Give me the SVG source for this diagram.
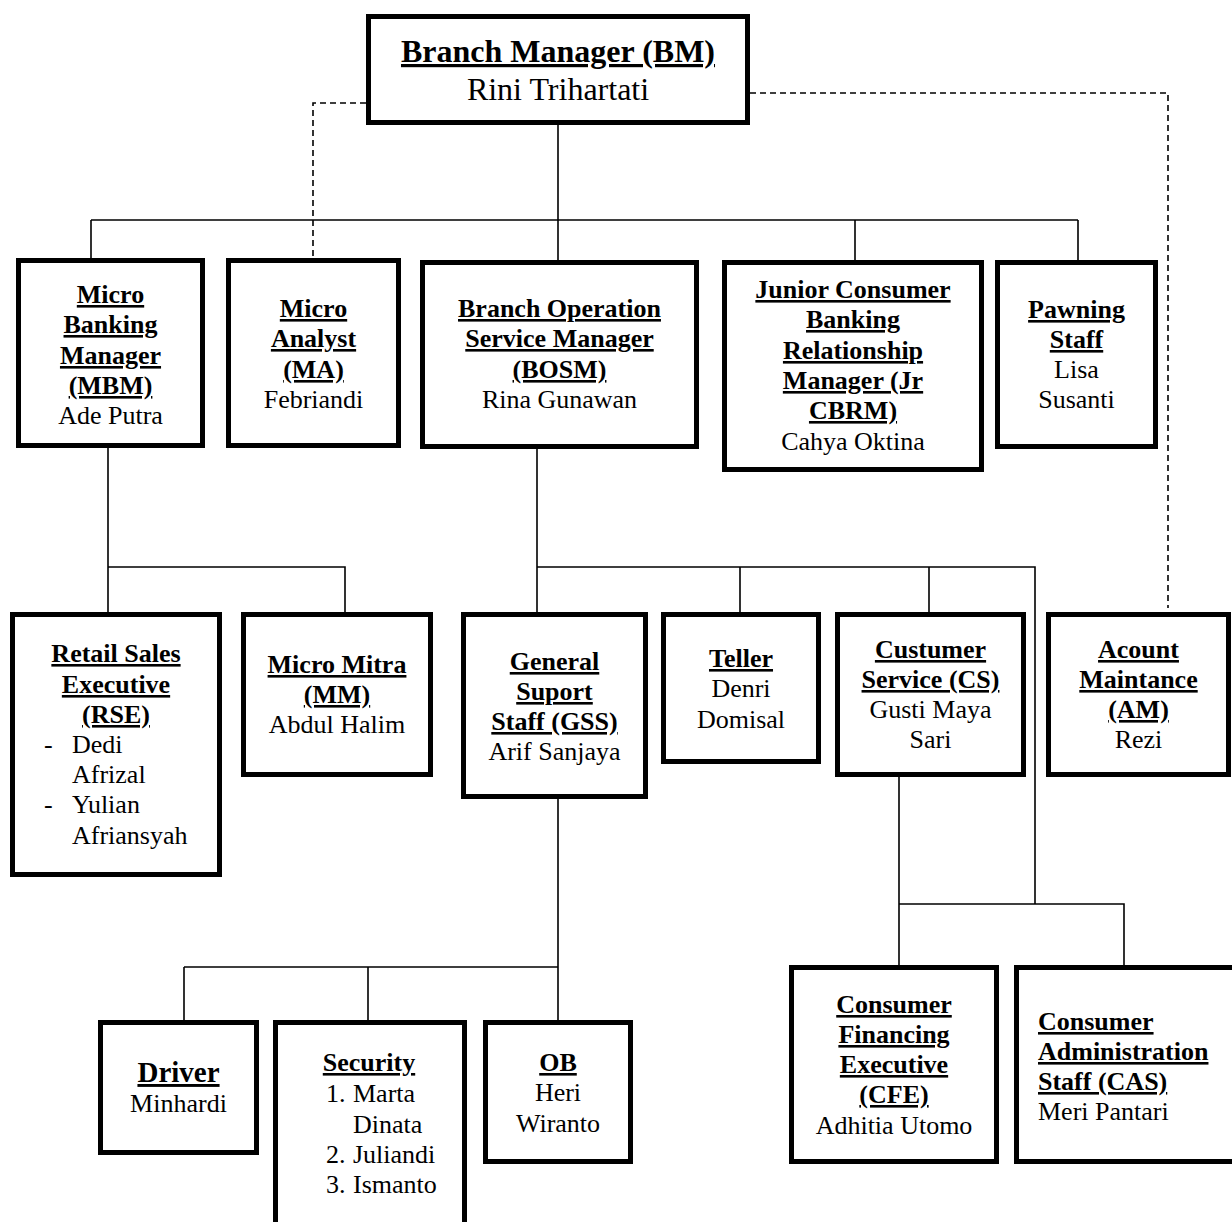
<svg xmlns="http://www.w3.org/2000/svg" width="1232" height="1222" viewBox="0 0 1232 1222">
<style>
text{font-family:"Liberation Serif","Times New Roman",serif;font-size:26px;fill:#000}
.c{text-anchor:middle}
.t{font-weight:bold;text-decoration:underline}
.box{fill:#fff;stroke:#000;stroke-width:5}
.ln{fill:none;stroke:#000;stroke-width:1.6}
.ds{fill:none;stroke:#000;stroke-width:1.6;stroke-dasharray:6 4}
</style>
<rect width="1232" height="1222" fill="#fff"/>
<g id="connectors">
<path class="ln" d="M558,125V220M91,220H1078M91,220V258M558,220V260M855,220V260M1078,220V260"/>
<path class="ds" d="M366,103H313V258"/>
<path class="ds" d="M750,93H1168V608"/>
<path class="ln" d="M108,448V612M108,567H345V612"/>
<path class="ln" d="M537,449V612M537,567H1035V904M740,567V612M929,567V612"/>
<path class="ln" d="M899,777V965M899,904H1124V965"/>
<path class="ln" d="M558,799V1020M184,967H558M184,967V1020M368,967V1020"/>
</g>
<g id="bm">
<rect class="box" x="368.5" y="16.5" width="379" height="106"/>
<text class="c t" x="558" y="62" style="font-size:32px">Branch Manager (BM)</text>
<text class="c" x="558" y="100" style="font-size:32px">Rini Trihartati</text>
</g>
<g id="mbm">
<rect class="box" x="18.5" y="260.5" width="184" height="185"/>
<text class="c t" x="110.5" y="303">Micro</text>
<text class="c t" x="110.5" y="333">Banking</text>
<text class="c t" x="110.5" y="364">Manager</text>
<text class="c t" x="110.5" y="394">(MBM)</text>
<text class="c" x="110.5" y="424">Ade Putra</text>
</g>
<g id="ma">
<rect class="box" x="228.5" y="260.5" width="170" height="185"/>
<text class="c t" x="313.5" y="317">Micro</text>
<text class="c t" x="313.5" y="347">Analyst</text>
<text class="c t" x="313.5" y="378">(MA)</text>
<text class="c" x="313.5" y="408">Febriandi</text>
</g>
<g id="bosm">
<rect class="box" x="422.5" y="262.5" width="274" height="184"/>
<text class="c t" x="559.5" y="317">Branch Operation</text>
<text class="c t" x="559.5" y="347">Service Manager</text>
<text class="c t" x="559.5" y="378">(BOSM)</text>
<text class="c" x="559.5" y="408">Rina Gunawan</text>
</g>
<g id="jrcbrm">
<rect class="box" x="724.5" y="262.5" width="257" height="207"/>
<text class="c t" x="853" y="298">Junior Consumer</text>
<text class="c t" x="853" y="328">Banking</text>
<text class="c t" x="853" y="359">Relationship</text>
<text class="c t" x="853" y="389">Manager (Jr</text>
<text class="c t" x="853" y="419">CBRM)</text>
<text class="c" x="853" y="450">Cahya Oktina</text>
</g>
<g id="pawning">
<rect class="box" x="997.5" y="262.5" width="158" height="184"/>
<text class="c t" x="1076.5" y="318">Pawning</text>
<text class="c t" x="1076.5" y="348">Staff</text>
<text class="c" x="1076.5" y="378">Lisa</text>
<text class="c" x="1076.5" y="408">Susanti</text>
</g>
<g id="rse">
<rect class="box" x="12.5" y="614.5" width="207" height="260"/>
<text class="c t" x="116" y="662">Retail Sales</text>
<text class="c t" x="116" y="693">Executive</text>
<text class="c t" x="116" y="723">(RSE)</text>
<text x="44" y="753">-</text><text x="72" y="753">Dedi</text>
<text x="72" y="783">Afrizal</text>
<text x="44" y="813">-</text><text x="72" y="813">Yulian</text>
<text x="72" y="844">Afriansyah</text>
</g>
<g id="mm">
<rect class="box" x="243.5" y="614.5" width="187" height="160"/>
<text class="c t" x="337" y="673">Micro Mitra</text>
<text class="c t" x="337" y="703">(MM)</text>
<text class="c" x="337" y="733">Abdul Halim</text>
</g>
<g id="gss">
<rect class="box" x="463.5" y="614.5" width="182" height="182"/>
<text class="c t" x="554.5" y="670">General</text>
<text class="c t" x="554.5" y="700">Suport</text>
<text class="c t" x="554.5" y="730">Staff (GSS)</text>
<text class="c" x="554.5" y="760">Arif Sanjaya</text>
</g>
<g id="teller">
<rect class="box" x="663.5" y="614.5" width="155" height="147"/>
<text class="c t" x="741" y="667">Teller</text>
<text class="c" x="741" y="697">Denri</text>
<text class="c" x="741" y="728">Domisal</text>
</g>
<g id="cs">
<rect class="box" x="837.5" y="614.5" width="186" height="160"/>
<text class="c t" x="930.5" y="658">Custumer</text>
<text class="c t" x="930.5" y="688">Service (CS)</text>
<text class="c" x="930.5" y="718">Gusti Maya</text>
<text class="c" x="930.5" y="748">Sari</text>
</g>
<g id="am">
<rect class="box" x="1048.5" y="614.5" width="180" height="160"/>
<text class="c t" x="1138.5" y="658">Acount</text>
<text class="c t" x="1138.5" y="688">Maintance</text>
<text class="c t" x="1138.5" y="718">(AM)</text>
<text class="c" x="1138.5" y="748">Rezi</text>
</g>
<g id="cfe">
<rect class="box" x="791.5" y="967.5" width="205" height="194"/>
<text class="c t" x="894" y="1013">Consumer</text>
<text class="c t" x="894" y="1043">Financing</text>
<text class="c t" x="894" y="1073">Executive</text>
<text class="c t" x="894" y="1103">(CFE)</text>
<text class="c" x="894" y="1134">Adhitia Utomo</text>
</g>
<g id="cas">
<rect class="box" x="1016.5" y="967.5" width="222" height="194"/>
<text class="t" x="1038" y="1030">Consumer</text>
<text class="t" x="1038" y="1060">Administration</text>
<text class="t" x="1038" y="1090">Staff (CAS)</text>
<text x="1038" y="1120">Meri Pantari</text>
</g>
<g id="driver">
<rect class="box" x="100.5" y="1022.5" width="156" height="130"/>
<text class="c t" x="178.5" y="1082" style="font-size:29px">Driver</text>
<text class="c" x="178.5" y="1112">Minhardi</text>
</g>
<g id="security">
<rect class="box" x="275.5" y="1022.5" width="189" height="220"/>
<text class="c t" x="369" y="1071">Security</text>
<text x="326" y="1102">1.</text><text x="353" y="1102">Marta</text>
<text x="353" y="1133">Dinata</text>
<text x="326" y="1163">2.</text><text x="353" y="1163">Juliandi</text>
<text x="326" y="1193">3.</text><text x="353" y="1193">Ismanto</text>
</g>
<g id="ob">
<rect class="box" x="485.5" y="1022.5" width="145" height="139"/>
<text class="c t" x="558" y="1071">OB</text>
<text class="c" x="558" y="1101">Heri</text>
<text class="c" x="558" y="1132">Wiranto</text>
</g>
</svg>
